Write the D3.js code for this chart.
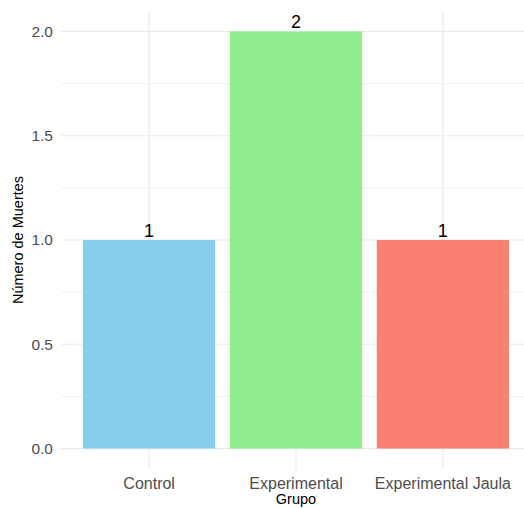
<!DOCTYPE html>
<html><head><meta charset="utf-8">
<script src="https://cdn.jsdelivr.net/npm/d3@7"></script>
<style>body{margin:0;background:#fff}svg{display:block;font-family:"Liberation Sans",Arial,sans-serif}</style>
</head><body>
<script>
const categories = ["Control", "Experimental", "Experimental Jaula"];
const deaths = [1, 2, 1];
const colors = ["#87CEEB", "#90EE90", "#FA8072"];
const yTicks = [0, 0.5, 1, 1.5, 2];
const yMinor = [0.25, 0.75, 1.25, 1.75];

const W = 524, H = 508;
const svg = d3.select("body").append("svg").attr("width", W).attr("height", H);

const panel = {left: 61, right: 531, top: 10.6, bottom: 469.4};
const step = (panel.right - panel.left) / 3.2;
const x = d3.scaleBand().domain(categories)
  .range([panel.left + 0.1 * step, panel.right - 0.1 * step]).paddingInner(0.1).paddingOuter(0.05);
const y = d3.scaleLinear().domain([-0.1, 2.1]).range([panel.bottom, panel.top]);

const g = svg.append("g");
// minor grid
g.selectAll("line.minor").data(yMinor).join("line")
  .attr("x1", panel.left).attr("x2", panel.right)
  .attr("y1", d => y(d)).attr("y2", d => y(d))
  .attr("stroke", "#f2f2f2").attr("stroke-width", 1);
// major grid
g.selectAll("line.major").data(yTicks).join("line")
  .attr("x1", panel.left).attr("x2", panel.right)
  .attr("y1", d => y(d)).attr("y2", d => y(d))
  .attr("stroke", "#ebebeb").attr("stroke-width", 1.2);
g.selectAll("line.vmaj").data(categories).join("line")
  .attr("x1", d => x(d) + x.bandwidth() / 2).attr("x2", d => x(d) + x.bandwidth() / 2)
  .attr("y1", panel.top).attr("y2", panel.bottom)
  .attr("stroke", "#ebebeb").attr("stroke-width", 1.2);

// bars
g.selectAll("rect").data(categories).join("rect")
  .attr("x", d => x(d)).attr("width", x.bandwidth())
  .attr("y", (d, i) => y(deaths[i])).attr("height", (d, i) => y(0) - y(deaths[i]))
  .attr("fill", (d, i) => colors[i]);

// labels
g.selectAll("text.lab").data(categories).join("text")
  .attr("x", d => x(d) + x.bandwidth() / 2)
  .attr("y", (d, i) => y(deaths[i]) - 3.5)
  .attr("text-anchor", "middle").attr("font-size", 18).attr("fill", "#000")
  .text((d, i) => deaths[i]);

// y axis
const yAxis = d3.axisLeft(y).tickValues(yTicks).tickFormat(d3.format(".1f")).tickSize(0).tickPadding(0);
const ya = svg.append("g").attr("transform", `translate(53,0)`).call(yAxis);
ya.select(".domain").remove();
ya.selectAll("text").attr("font-size", 15.5).attr("fill", "#4d4d4d").attr("font-family", "Liberation Sans, Arial, sans-serif");

// x axis
const xAxis = d3.axisBottom(x).tickSize(0).tickPadding(0);
const xa = svg.append("g").attr("transform", `translate(0,${panel.bottom + 8})`).call(xAxis);
xa.select(".domain").remove();
xa.selectAll("text").attr("font-size", 16).attr("fill", "#4d4d4d").attr("font-family", "Liberation Sans, Arial, sans-serif");

// titles
svg.append("text").attr("transform", "translate(23,240) rotate(-90)")
  .attr("text-anchor", "middle").attr("font-size", 14.5).attr("fill", "#000").text("Número de Muertes");
svg.append("text").attr("x", 296).attr("y", 504)
  .attr("text-anchor", "middle").attr("font-size", 14.5).attr("fill", "#000").text("Grupo");
</script>
</body></html>
